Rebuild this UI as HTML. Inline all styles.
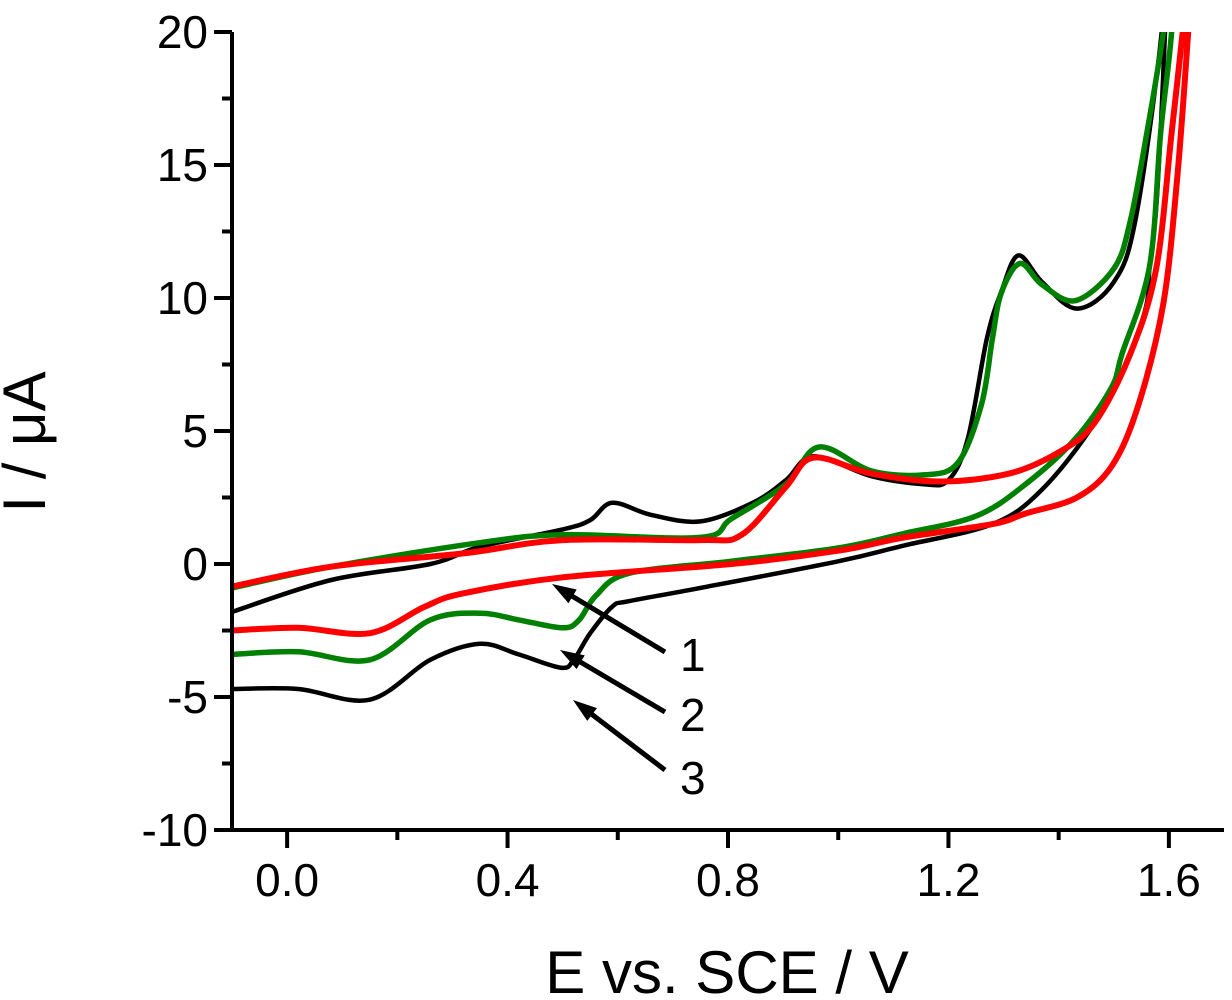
<!DOCTYPE html>
<html><head><meta charset="utf-8"><style>
html,body{margin:0;padding:0;background:#fff}
svg{display:block}
text{font-family:"Liberation Sans",Arial,sans-serif;fill:#000}
</style></head><body>
<svg id="chart" width="1232" height="1000" viewBox="0 0 1232 1000">
<defs><clipPath id="pc"><rect x="232" y="32" width="992" height="798"/></clipPath></defs>
<g id="curves" clip-path="url(#pc)"></g>
<g id="axes"></g>
<g id="annot"></g>
<text x="727" y="993" font-size="60" text-anchor="middle">E vs. SCE / V</text>
<text transform="translate(45,442) rotate(-90)" font-size="60" text-anchor="middle">I / μA</text>
</svg>
<script>
const xTicks=[0.0,0.4,0.8,1.2,1.6];
const xTickLabels=["0.0","0.4","0.8","1.2","1.6"];
const yTicks=[-10,-5,0,5,10,15,20];
const yTickLabels=["-10","-5","0","5","10","15","20"];
const curve3E=[-0.1,0.08,0.26,0.35,0.5,0.55,0.59,0.66,0.75,0.845,0.905,0.955,1.06,1.155,1.2,1.235,1.27,1.297,1.327,1.37,1.433,1.5,1.54,1.587,1.6,1.593,1.578,1.565,1.56,1.53,1.465,1.37,1.28,1.12,1.0,0.75,0.62,0.59,0.55,0.52,0.497,0.42,0.35,0.26,0.15,0.02,-0.1];
const curve3I=[-1.8,-0.6,0.0,0.65,1.3,1.65,2.3,1.85,1.6,2.3,3.15,4.05,3.3,3.0,3.15,4.7,8.5,10.3,11.6,10.6,9.6,10.6,13.0,20,25,20,13.7,11.2,9.8,7.9,5.3,2.8,1.5,0.7,0.1,-0.9,-1.4,-1.6,-2.6,-3.6,-3.9,-3.4,-3.0,-3.6,-5.1,-4.7,-4.7];
const curve2E=[-0.1,0.08,0.35,0.5,0.75,0.806,0.905,0.965,1.06,1.155,1.217,1.26,1.28,1.296,1.33,1.37,1.43,1.5,1.53,1.56,1.59,1.62,1.605,1.585,1.565,1.515,1.495,1.43,1.34,1.25,1.12,1.0,0.805,0.62,0.56,0.53,0.5,0.42,0.35,0.26,0.15,0.02,-0.1];
const curve2I=[-0.9,-0.1,0.8,1.1,1.0,1.7,3.0,4.4,3.5,3.35,3.8,6.0,8.5,10.2,11.3,10.5,9.9,11.1,12.9,16.2,20,25,20,16.2,11.2,7.9,6.6,4.7,3.0,1.8,1.15,0.6,0.1,-0.35,-1.2,-2.1,-2.4,-2.1,-1.85,-2.1,-3.6,-3.3,-3.4];
const curve1E=[-0.1,0.08,0.32,0.5,0.75,0.825,0.905,0.955,1.06,1.185,1.31,1.4,1.465,1.53,1.577,1.605,1.625,1.65,1.635,1.615,1.59,1.545,1.497,1.433,1.34,1.28,1.12,1.0,0.806,0.5,0.32,0.25,0.15,0.02,-0.1];
const curve1I=[-0.85,-0.1,0.4,0.9,0.9,1.1,2.9,4.0,3.4,3.1,3.4,4.2,5.3,7.9,11.1,16.2,20,25,20,14.5,9.8,6.0,3.7,2.5,1.9,1.5,1.0,0.5,0.0,-0.5,-1.1,-1.6,-2.6,-2.4,-2.5];
const xMin=-0.1,xMax=1.7,yMin=-10,yMax=20;
const L=232,R=1224,T=32,B=830;
const X=v=>L+(v-xMin)/(xMax-xMin)*(R-L);
const Y=v=>B-(v-yMin)/(yMax-yMin)*(B-T);
const NS="http://www.w3.org/2000/svg";
function mk(tag,attrs,parent){const e=document.createElementNS(NS,tag);for(const k in attrs)e.setAttribute(k,attrs[k]);parent.appendChild(e);return e;}
function smoothPath(E,I){const p=E.map((e,i)=>[X(e),Y(I[i])]);let d="M"+p[0][0]+","+p[0][1];
for(let i=0;i<p.length-1;i++){const p0=p[i-1]||p[i],p1=p[i],p2=p[i+1],p3=p[i+2]||p2;
const c1=[p1[0]+(p2[0]-p0[0])/6,p1[1]+(p2[1]-p0[1])/6],c2=[p2[0]-(p3[0]-p1[0])/6,p2[1]-(p3[1]-p1[1])/6];
d+=" C"+c1[0].toFixed(1)+","+c1[1].toFixed(1)+" "+c2[0].toFixed(1)+","+c2[1].toFixed(1)+" "+p2[0].toFixed(1)+","+p2[1].toFixed(1);}return d;}
const cg=document.getElementById('curves');
const c3=mk('path',{d:smoothPath(curve3E,curve3I),fill:"none",stroke:"#000","stroke-width":4.5,"stroke-linejoin":"round"},cg);


const c2=mk('path',{d:smoothPath(curve2E,curve2I),fill:"none",stroke:"#008000","stroke-width":5.5,"stroke-linejoin":"round"},cg);


const c1=mk('path',{d:smoothPath(curve1E,curve1I),fill:"none",stroke:"#ff0000","stroke-width":6,"stroke-linejoin":"round"},cg);


const ag=document.getElementById('axes');
mk('line',{x1:L,y1:T,x2:L,y2:B+2,stroke:"#000","stroke-width":4},ag);
mk('line',{x1:L-2,y1:B,x2:R,y2:B,stroke:"#000","stroke-width":4},ag);
for(let v=xMin;v<=xMax+1e-9;v+=0.1){const major=xTicks.some(t=>Math.abs(t-v)<1e-6);const minor=Math.abs(Math.round(v*10)%2)===0;
 if(major||minor) mk('line',{x1:X(v),y1:B,x2:X(v),y2:B+(major?18:10),stroke:"#000","stroke-width":4},ag);}
for(let v=yMin;v<=yMax;v+=2.5){const major=v%5===0;mk('line',{x1:L,y1:Y(v),x2:L-(major?18:10),y2:Y(v),stroke:"#000","stroke-width":4},ag);}
xTicks.forEach((t,i)=>{const tx=mk('text',{x:X(t),y:B+66,"font-size":46,"text-anchor":"middle"},ag);tx.textContent=xTickLabels[i];

});
yTicks.forEach((t,i)=>{const tx=mk('text',{x:208,y:Y(t)+16,"font-size":46,"text-anchor":"end"},ag);tx.textContent=yTickLabels[i];

});
const an=document.getElementById('annot');
const arrows=[["1",665,652,552,584,680,655],["2",665,712,560,650,680,715],["3",665,770,573,700,680,778]];
arrows.forEach(a=>{const dx=a[3]-a[1],dy=a[4]-a[2],len=Math.hypot(dx,dy),ux=dx/len,uy=dy/len;
const ln=mk('line',{x1:a[1],y1:a[2],x2:a[3]+ux*-14,y2:a[4]+uy*-14,stroke:"#000","stroke-width":5},an);


const bx=a[3]-ux*24,by=a[4]-uy*24,px=-uy*8,py=ux*8;
mk('polygon',{points:`${a[3]},${a[4]} ${bx+px},${by+py} ${bx-px},${by-py}`,fill:"#000"},an);
const t=mk('text',{x:a[5],y:a[6]+16,"font-size":46},an);t.textContent=a[0];

});
</script>
</body></html>
